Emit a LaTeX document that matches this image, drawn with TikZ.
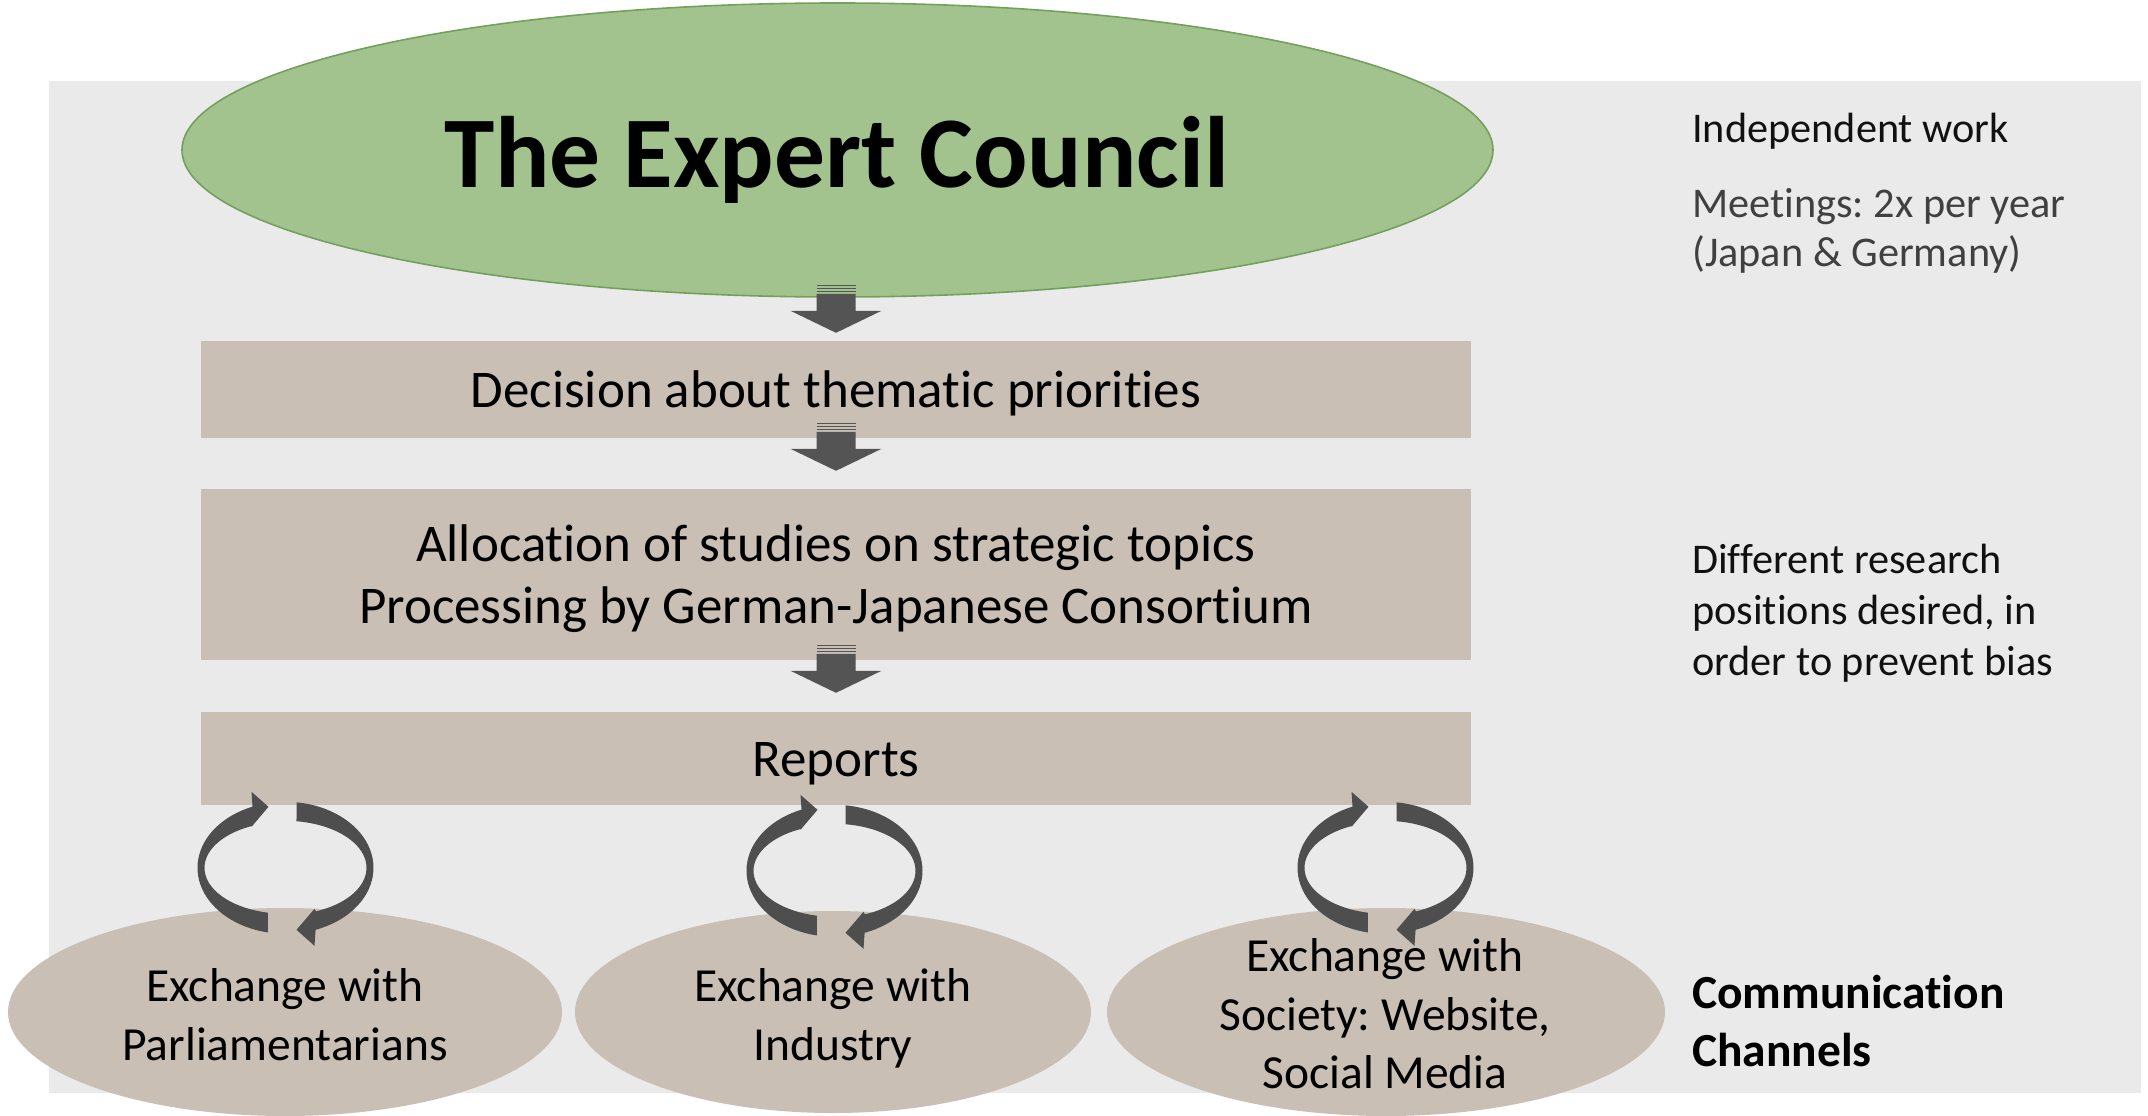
\documentclass[tikz,border=0pt]{standalone}
\usepackage{fontspec}
\setmainfont{Carlito}[Ligatures={NoCommon}]
\frenchspacing
\usetikzlibrary{shapes.geometric,calc}
\definecolor{bggray}{HTML}{EAEAEA}
\definecolor{councilgreen}{HTML}{A2C38E}
\definecolor{councilline}{HTML}{74A05E}
\definecolor{boxtan}{HTML}{C9BFB5}
\definecolor{arrowgray}{HTML}{545454}
\definecolor{cyclegray}{HTML}{4E4E4E}
\definecolor{notegray}{HTML}{404040}
\definecolor{textblack}{HTML}{111111}

\newcommand\blockdown[1]{%
  \begin{scope}[shift={($#1$)}]
    \fill[arrowgray] (0,0) -- (45.5,-22) -- (19.5,-22) -- (19.5,-39) -- (-19.5,-39) -- (-19.5,-22) -- (-45.5,-22) -- cycle;
    \fill[arrowgray] (-19.5,-48) rectangle (19.5,-46.5);
    \fill[arrowgray] (-19.5,-45) rectangle (19.5,-43.5);
    \fill[arrowgray] (-19.5,-42) rectangle (19.5,-40.5);
  \end{scope}}

\newcommand\cyclepair[1]{%
  \begin{scope}[shift={($#1$)}]
    \fill[cyclegray] plot[domain=258.5:112, samples=40] ({88*cos(\x)},{-66*sin(\x)})
      -- (-34,-76) -- (-17,-61) -- (-34,-41)
      -- plot[domain=114:257.5, samples=40] ({81*cos(\x)},{-46*sin(\x)}) -- cycle;
    \fill[cyclegray] plot[domain=82.8:-70, samples=40] ({88*cos(\x)},{-66*sin(\x)})
      -- (29,78) -- (11,62) -- (29,41)
      -- plot[domain=-68:82.2, samples=40] ({81*cos(\x)},{-47*sin(\x)}) -- cycle;
  \end{scope}}

\begin{document}
\begin{tikzpicture}[x=1pt,y=-1pt,
  council/.style={ellipse, fill=councilgreen, draw=councilline, line width=1.6pt, inner sep=0, minimum width=1311pt, minimum height=294pt},
  stepbox/.style={rectangle, fill=boxtan, inner sep=0, minimum width=1270pt},
  chan/.style={ellipse, fill=boxtan, inner sep=0},
  titletext/.style={font=\fontsize{101.5}{120}\selectfont\bfseries, anchor=base, inner sep=0, text=black},
  boxtext/.style={font=\fontsize{53}{62}\selectfont, anchor=base, inner sep=0, text=black},
  sidetext/.style={font=\fontsize{42.3}{50}\selectfont, anchor=base west, inner sep=0, text=textblack},
  chantext/.style={font=\fontsize{47.5}{58}\selectfont, anchor=base, inner sep=0, text=black},
  commtext/.style={font=\fontsize{47.5}{58}\selectfont\bfseries, anchor=base west, inner sep=0, text=black}
]
\useasboundingbox (0,0) rectangle (2148,1116);
\fill[white] (0,0) rectangle (2148,1116);
\fill[bggray] (49,81) rectangle (2141,1093);

% shapes
\node[council] (council) at (837.5,150) {};
\node[stepbox, minimum height=97pt] (dec) at (836,389.5) {};
\node[stepbox, minimum height=171pt] (alloc) at (836,574.5) {};
\node[stepbox, minimum height=93pt] (rep) at (836,758.5) {};
\node[chan, minimum width=554pt, minimum height=208pt] (parl) at (285,1012) {};
\node[chan, minimum width=516pt, minimum height=202pt] (ind) at (833,1012) {};
\node[chan, minimum width=558pt, minimum height=208pt] (soc) at (1386,1012) {};

% connectors
\blockdown{(dec.north)+(0,-8)}
\blockdown{(alloc.north)+(0,-18)}
\blockdown{(rep.north)+(0,-19)}
\cyclepair{(parl.north)+(0.5,-40)}
\cyclepair{(ind.north)+(1.5,-40)}
\cyclepair{(soc.north)+(-0.5,-40)}

% texts
\node[titletext] (title) at (837,187) {The Expert Council};
\node[boxtext] (dectext) at (836,407) {Decision about thematic priorities};
\node[boxtext] (alloca) at (836,561) {Allocation of studies on strategic topics};
\node[boxtext] (allocb) at (836,623) {Processing by German-Japanese Consortium};
\node[boxtext] (reptext) at (836,776) {Reports};

\node[sidetext] (indep) at (1692,142) {Independent work};
\node[sidetext, text=notegray] (meet) at (1692,217) {Meetings: 2x per year};
\node[sidetext, text=notegray] (japger) at (1692,266) {(Japan \& Germany)};
\node[sidetext] (diffa) at (1692,573) {Different research};
\node[sidetext] (diffb) at (1692,624) {positions desired, in};
\node[sidetext] (diffc) at (1692,675) {order to prevent bias};
\node[commtext] (comma) at (1692,1008) {Communication};
\node[commtext] (commb) at (1692,1066) {Channels};

\node[chantext] (parla) at (285,1001) {Exchange with};
\node[chantext] (parlb) at (285,1060) {Parliamentarians};
\node[chantext] (inda) at (833,1001) {Exchange with};
\node[chantext] (indb) at (833,1060) {Industry};
\node[chantext] (soca) at (1385,971) {Exchange with};
\node[chantext] (socb) at (1385,1030) {Society: Website,};
\node[chantext] (socc) at (1385,1088) {Social Media};
\end{tikzpicture}
\end{document}
